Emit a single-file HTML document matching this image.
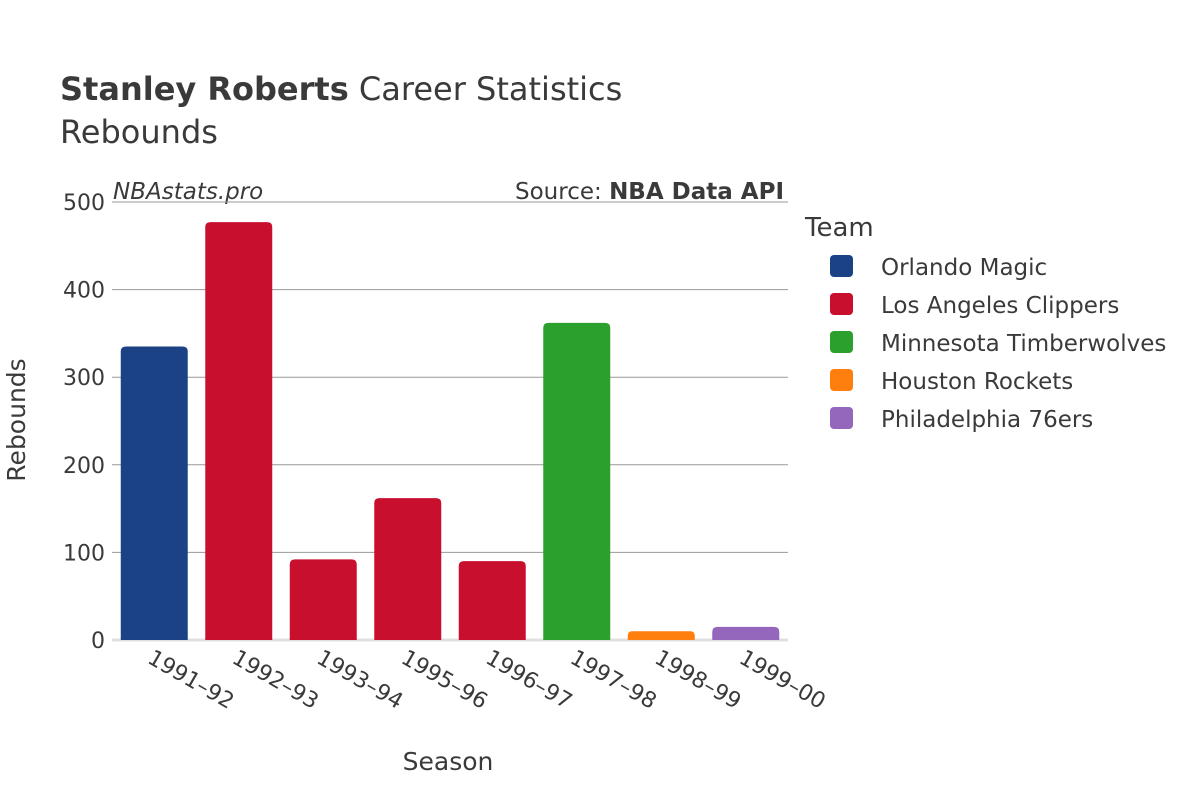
<!DOCTYPE html>
<html><head><meta charset="utf-8"><style>
body{margin:0;background:#fff;}
svg text{font-family:"DejaVu Sans","Liberation Sans",sans-serif;fill:#3a3a3a;}
</style></head><body>
<svg id="chart" width="1200" height="800" xmlns="http://www.w3.org/2000/svg">
<text x="60" y="100" font-size="32"><tspan font-weight="bold">Stanley Roberts</tspan> Career Statistics</text>
<text x="60" y="143" font-size="32">Rebounds</text>
<text x="113" y="199" font-size="23" font-style="italic">NBAstats.pro</text>
<text x="784" y="199" font-size="23" text-anchor="end">Source: <tspan font-weight="bold">NBA Data API</tspan></text>
<g id="grid"></g>
<g id="bars"></g>
<g id="xlabels"></g>
<text transform="translate(25,420) rotate(-90)" font-size="25" text-anchor="middle">Rebounds</text>
<text x="448" y="770" font-size="25" text-anchor="middle">Season</text>
<g id="legend">
<text x="805" y="236" font-size="26">Team</text>
</g>
</svg>
<script>
const seasons=["1991–92","1992–93","1993–94","1995–96","1996–97","1997–98","1998–99","1999–00"];
const rebounds=[335,477,92,162,90,362,10,15];
const teamOf=[0,1,1,1,1,2,3,4];
const teams=["Orlando Magic","Los Angeles Clippers","Minnesota Timberwolves","Houston Rockets","Philadelphia 76ers"];
const teamColors=["#1c4286","#c8102e","#2ca02c","#ff7f0e","#9467bd"];
const yTicks=[0,100,200,300,400,500];

const NS="http://www.w3.org/2000/svg";
const x0=112,x1=788,yTop=202,yBot=640,yMax=500;
const y=v=>yBot-(v/yMax)*(yBot-yTop);
const band=(x1-x0)/seasons.length;
const bx=i=>x0+band*i+band/2;
function mk(tag,attrs,parent){const e=document.createElementNS(NS,tag);for(const k in attrs)e.setAttribute(k,attrs[k]);parent.appendChild(e);return e;}

const grid=document.getElementById('grid');
yTicks.forEach(t=>{
  const l=mk('line',{x1:x0,x2:x1,y1:y(t),y2:y(t),stroke:t===0?'#e0e0e0':'#999','stroke-width':t===0?3:1},grid);
  
  
  const tx=mk('text',{x:105,y:y(t)+8,'font-size':22,'text-anchor':'end'},grid);
  tx.textContent=t;
  
  
});

const bars=document.getElementById('bars');
const bw=67,r=5;
rebounds.forEach((v,i)=>{
  const left=bx(i)-bw/2,top=y(v),h=yBot-top;
  const rr=Math.min(r,h/2);
  const d=`M${left},${yBot}V${top+rr}Q${left},${top} ${left+rr},${top}H${left+bw-rr}Q${left+bw},${top} ${left+bw},${top+rr}V${yBot}Z`;
  const p=mk('path',{d:d,fill:teamColors[teamOf[i]]},bars);
  
  
});

const xl=document.getElementById('xlabels');
seasons.forEach((s,i)=>{
  const t=mk('text',{x:0,y:0,'font-size':22,transform:`translate(${bx(i)-8},${662}) rotate(30)`},xl);
  t.textContent=s;
  
  
});

const lg=document.getElementById('legend');
teams.forEach((tm,i)=>{
  const yy=266+i*38;
  const rc=mk('rect',{x:830,y:yy-11,width:23,height:22,rx:4,fill:teamColors[i]},lg);
  
  
  const t=mk('text',{x:881,y:yy+9,'font-size':23},lg);
  t.textContent=tm;
  
  
});
</script>
</body></html>
